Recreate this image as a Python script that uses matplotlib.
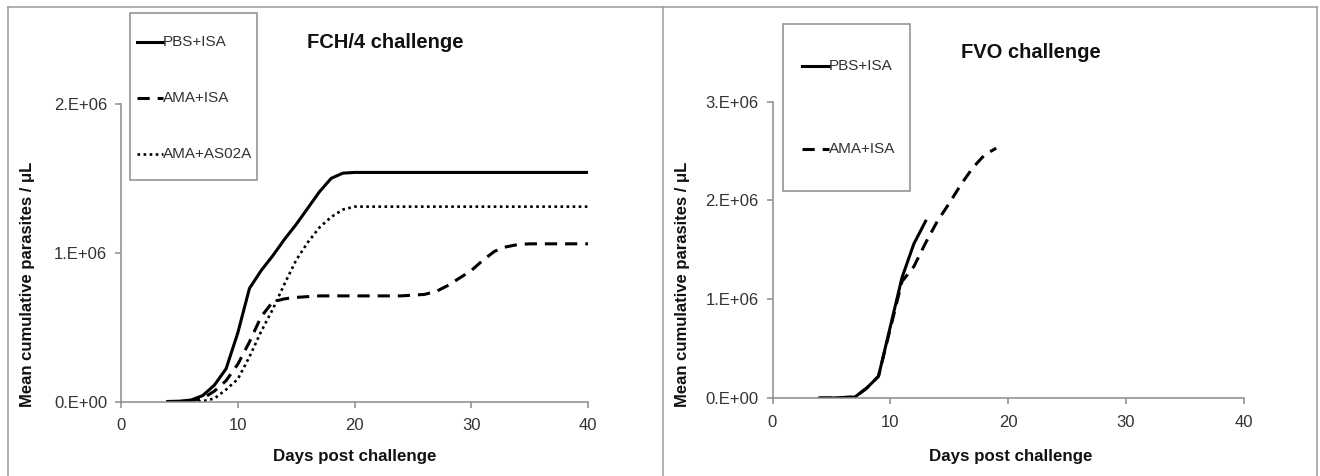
import matplotlib
matplotlib.use("Agg")
import matplotlib.pyplot as plt
from matplotlib.lines import Line2D
from matplotlib.patches import Rectangle

plt.rcParams['font.family'] = ['Liberation Sans', 'DejaVu Sans']

# ---------------- data ----------------
days_fch = list(range(4, 41))
pbs_fch = [0, 0.002, 0.01, 0.04, 0.11, 0.22, 0.46, 0.76, 0.88, 0.98, 1.09, 1.19, 1.30, 1.41,
           1.50, 1.535, 1.54] + [1.54] * 20
ama_isa_fch = [0, 0, 0.005, 0.02, 0.07, 0.14, 0.25, 0.40, 0.57, 0.67, 0.69, 0.70, 0.705,
               0.71, 0.71, 0.71, 0.71, 0.71, 0.71, 0.71, 0.71, 0.715, 0.72, 0.74, 0.78, 0.83,
               0.88, 0.95, 1.01, 1.04, 1.055, 1.06, 1.06, 1.06, 1.06, 1.06, 1.06]
ama_as02a_fch = [0, 0, 0, 0.002, 0.02, 0.08, 0.15, 0.30, 0.47, 0.62, 0.79, 0.95, 1.07, 1.17,
                 1.24, 1.29, 1.31] + [1.31] * 20

days_fvo_pbs = list(range(4, 14))
pbs_fvo = [0, 0, 0.005, 0.01, 0.10, 0.22, 0.72, 1.22, 1.56, 1.79]
days_fvo_ama = list(range(4, 20))
ama_isa_fvo = [0, 0, 0.005, 0.01, 0.10, 0.22, 0.70, 1.18, 1.33, 1.57, 1.79, 1.97, 2.16,
               2.33, 2.46, 2.53]

x_ticks = [0, 10, 20, 30, 40]
y_ticks_fch = [0, 1e6, 2e6]
y_ticklabels_fch = ['0.E+00', '1.E+06', '2.E+06']
y_ticks_fvo = [0, 1e6, 2e6, 3e6]
y_ticklabels_fvo = ['0.E+00', '1.E+06', '2.E+06', '3.E+06']

# ---------------- figure ----------------
W, H = 1320, 476
fig = plt.figure(figsize=(W / 100, H / 100), dpi=100)


def fx(px):
    return px / W


def fy(py):
    return 1 - py / H


GRAY = '#8c8c8c'
TXT = '#333333'
solid = dict(color='black', lw=2.2, linestyle='-')
dashed = dict(color='black', lw=2.2, linestyle=(0, (4, 2.6)))
dotted = dict(color='black', lw=1.9, linestyle=(0, (1, 1.3)))


def style_axes(ax, yticks, ylabels, ymax):
    ax.set_xlim(0, 40)
    ax.set_ylim(0, ymax)
    ax.set_xticks(x_ticks)
    ax.set_yticks(yticks)
    ax.set_yticklabels(ylabels)
    for s in ['top', 'right']:
        ax.spines[s].set_visible(False)
    for s in ['left', 'bottom']:
        ax.spines[s].set_color(GRAY)
        ax.spines[s].set_linewidth(1.1)
    ax.tick_params(axis='both', direction='out', length=4, width=1.1, color=GRAY,
                   labelcolor=TXT, labelsize=12)
    ax.tick_params(axis='x', pad=8)
    ax.tick_params(axis='y', pad=6)
    ax.set_facecolor('none')


# left panel
axL = fig.add_axes([fx(121), fy(401.5), fx(588) - fx(121), fy(104) - fy(401.5)])
axL.plot(days_fch, [v * 1e6 for v in pbs_fch], **solid)
axL.plot(days_fch, [v * 1e6 for v in ama_isa_fch], **dashed)
axL.plot(days_fch, [v * 1e6 for v in ama_as02a_fch], **dotted)
style_axes(axL, y_ticks_fch, y_ticklabels_fch, 2e6)

# right panel
axR = fig.add_axes([fx(772.5), fy(398), fx(1243.5) - fx(772.5), fy(101.7) - fy(398)])
axR.plot(days_fvo_pbs, [v * 1e6 for v in pbs_fvo], **solid)
axR.plot(days_fvo_ama, [v * 1e6 for v in ama_isa_fvo], **dashed)
style_axes(axR, y_ticks_fvo, y_ticklabels_fvo, 3e6)

# axis labels and titles
for xc in (355, 1011):
    fig.text(fx(xc), fy(457), 'Days post challenge', ha='center', va='center',
             fontsize=12.2, fontweight='bold', color='#111111')
for xc in (28, 683):
    fig.text(fx(xc), fy(284), 'Mean cumulative parasites / \u03bcL', ha='center', va='center',
             rotation=90, fontsize=12, fontweight='bold', color='#111111')
fig.text(fx(385), fy(43), 'FCH/4 challenge', ha='center', va='center',
         fontsize=14.5, fontweight='bold', color='#111111')
fig.text(fx(1031), fy(53), 'FVO challenge', ha='center', va='center',
         fontsize=14.5, fontweight='bold', color='#111111')


# legends (drawn in figure pixel positions)
def draw_legend(box, entries, hx0, hx1):
    x0, y0, x1, y1 = box
    fig.add_artist(Rectangle((fx(x0), fy(y1)), fx(x1) - fx(x0), fy(y0) - fy(y1),
                             transform=fig.transFigure, fill=False, edgecolor=GRAY, lw=1.1))
    for yy, label, st in entries:
        fig.add_artist(Line2D([fx(hx0), fx(hx1)], [fy(yy), fy(yy)],
                              transform=fig.transFigure, **st))
        fig.text(fx(hx1), fy(yy), label, ha='left', va='center', fontsize=11, color=TXT)


draw_legend((130, 13, 257, 180),
            [(41.7, 'PBS+ISA', solid), (97.7, 'AMA+ISA', dashed), (154, 'AMA+AS02A', dotted)],
            137, 163)
draw_legend((783, 24, 910, 190.7),
            [(65.7, 'PBS+ISA', solid), (149, 'AMA+ISA', dashed)],
            802, 829)

# outer frames of the two panels
frame = dict(transform=fig.transFigure, color='#9a9a9a', lw=1.1)
fig.add_artist(Line2D([fx(8), fx(1317)], [fy(7), fy(7)], **frame))
fig.add_artist(Line2D([fx(8), fx(8)], [fy(7), fy(476)], **frame))
fig.add_artist(Line2D([fx(663), fx(663)], [fy(7), fy(476)], **frame))
fig.add_artist(Line2D([fx(1317), fx(1317)], [fy(7), fy(476)], **frame))

fig.savefig('out.png', dpi=100)
